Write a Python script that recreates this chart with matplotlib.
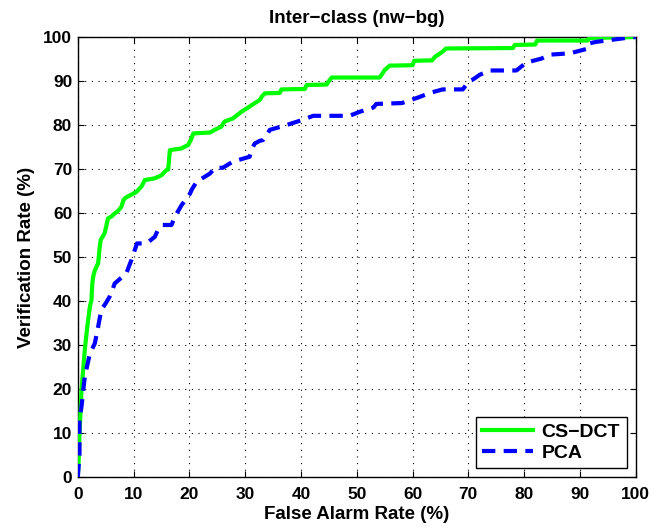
import matplotlib
matplotlib.use("Agg")
import matplotlib.pyplot as plt

plt.rcParams['font.family'] = ['Liberation Sans', 'DejaVu Sans']
plt.rcParams['font.weight'] = 'bold'

# CS-DCT ROC curve (false alarm %, verification %)
cs_far = [0, 0.2, 0.3, 0.5, 0.66, 1.0, 1.25, 1.6, 1.85, 2.2, 2.45, 2.6, 2.75, 3.05, 3.65, 3.9, 4.1,
          4.8, 5.1, 5.4, 6.0, 6.6, 7.2, 7.8, 8.2, 8.6, 9.3, 10.5, 11.0, 11.4, 12.0, 13.8, 15.0,
          15.9, 16.2, 16.5, 18.6, 19.8, 20.4, 20.7, 23.7, 24.5, 25.7, 26.3, 27.8, 28.5, 29.3,
          30.8, 31.5, 32.6, 33.0, 33.5, 36.2, 36.5, 40.7, 41.0, 44.6, 45.0, 45.5, 54.1, 54.5,
          55.0, 55.9, 60.0, 60.3, 63.5, 64.0, 64.5, 65.5, 66.0, 78.0, 78.3, 82.0, 82.3, 91.4,
          91.7, 100]
cs_vr = [0, 5, 10, 15, 19.8, 25, 28.9, 33, 35.7, 39, 40.2, 44, 45.5, 47, 48.6, 52, 53.9,
         55.4, 57, 58.8, 59.2, 59.9, 60.5, 61.4, 63, 63.5, 64, 64.8, 65.5, 66, 67.5, 67.9, 68.6,
         69.8, 69.9, 74.3, 74.7, 75.5, 77, 78.1, 78.3, 78.9, 79.6, 80.8, 81.5, 82.2, 83,
         84.2, 84.8, 85.7, 86.5, 87.2, 87.3, 88.1, 88.2, 89.1, 89.2, 90.0, 90.8, 90.8, 91.5,
         92.5, 93.5, 93.6, 94.6, 94.7, 95.5, 95.9, 96.8, 97.4, 97.5, 98.2, 98.3, 99.2, 99.2,
         99.8, 100]

# PCA ROC curve
pca_far = [0, 0.3, 0.3, 0.66, 1.0, 1.25, 1.8, 2.15, 3.05, 3.3, 3.65, 4.2, 5.0, 5.7, 6.2, 6.6,
           8.7, 9.2, 9.6, 10.1, 10.6, 12.3, 13.8, 14.3, 15.2, 16.8, 17.4, 18.0, 18.6, 20.1,
           20.5, 21.3, 23.7, 24.6, 26.0, 27.8, 30.8, 31.2, 31.7, 32.6, 33.2, 34.0, 34.4, 37.4,
           40.1, 42.2, 48.7, 50.5, 53.0, 53.5, 58.1, 61.3, 63.1, 65.4, 69.0, 70.0, 71.0, 72.0,
           73.8, 78.6, 80.4, 83.1, 84.6, 88.2, 89.4, 91.5, 91.8, 92.9, 95.9, 98.9, 100]
pca_vr = [0, 5, 13, 16, 20, 22.8, 26, 28, 30.4, 32, 34.2, 38, 39.5, 41, 42.5, 44,
          46.3, 48, 49.3, 51.2, 53.1, 53.1, 54.6, 56, 57.3, 57.3, 59.2, 60.5, 61.8, 64.4,
          65.5, 67.1, 69, 70.3, 70.3, 71.7, 72.8, 74.5, 75.8, 76.4, 76.6, 78, 78.9, 80,
          81.1, 82.1, 82.1, 83, 84, 84.8, 85, 86.4, 87.3, 88.1, 88.1, 89.8, 90.5, 91.4,
          92.4, 92.4, 94.2, 95.1, 96, 96.3, 96.7, 97.4, 98.6, 98.9, 99.4, 99.9, 100]

ticks = [0, 10, 20, 30, 40, 50, 60, 70, 80, 90, 100]

fig = plt.figure(figsize=(6.65, 5.29), dpi=100)
ax = fig.add_axes([0.117, 0.098, 0.839, 0.832])

ax.plot(cs_far, cs_vr, color='#00ff00', lw=3, label='CS\u2212DCT', zorder=3)
ax.plot(pca_far, pca_vr, color='#0000ff', lw=3, ls=(0, (3.2, 2.0)), label='PCA', zorder=4)

ax.set_xlim(0, 100)
ax.set_ylim(0, 100)
ax.set_xticks(ticks)
ax.set_yticks(ticks)
ax.tick_params(direction='in', top=True, right=True, length=4, width=0.8, labelsize=12.5)
ax.tick_params(axis='x', pad=7)
ax.tick_params(axis='y', pad=4)
for lab in ax.get_xticklabels() + ax.get_yticklabels():
    lab.set_fontweight('bold')
ax.grid(True, color='black', ls=(0, (1, 5)), lw=0.8)
for s in ax.spines.values():
    s.set_linewidth(1.0)

ax.set_title('Inter\u2212class (nw\u2212bg)', fontsize=13.5, fontweight='bold', pad=10)
ax.set_xlabel('False Alarm Rate (%)', fontsize=13.5, fontweight='bold', labelpad=3)
ax.set_ylabel('Verification Rate (%)', fontsize=13.5, fontweight='bold', labelpad=6)

leg = ax.legend(loc='lower right', fancybox=False, edgecolor='black', framealpha=1,
                prop={'size': 14, 'weight': 'bold'}, handlelength=2.6, borderaxespad=0.45,
                labelspacing=0.15, borderpad=0.35, handletextpad=0.45)
leg.get_frame().set_linewidth(1.0)

fig.savefig('out.png', dpi=100)
